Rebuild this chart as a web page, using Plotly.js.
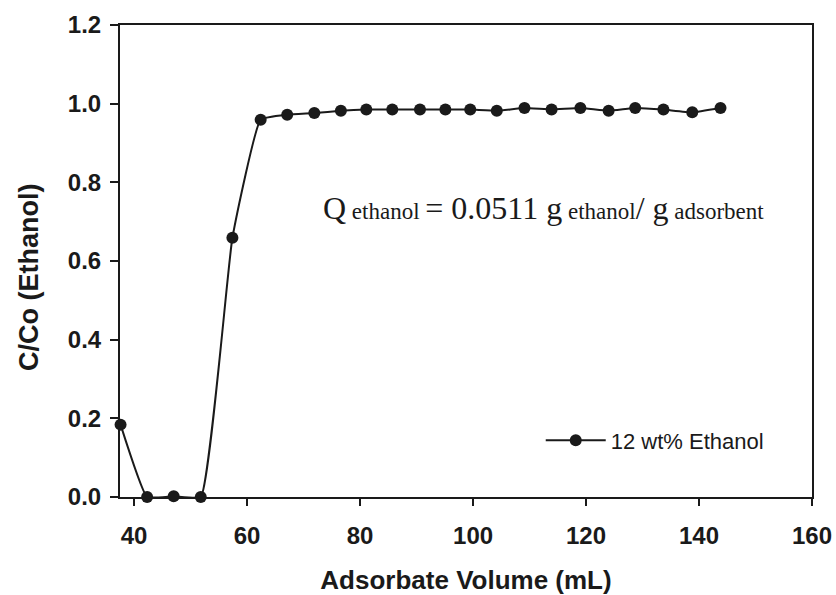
<!DOCTYPE html>
<html>
<head>
<meta charset="utf-8">
<script src="https://cdn.plot.ly/plotly-3.0.1.min.js"></script>
<style>html,body{margin:0;padding:0;background:#fff;}#chart{width:836px;height:595px;}</style>
</head>
<body>
<div id="chart"></div>
<script>
// Data
const volume = [37.6, 42.3, 47.0, 51.8, 57.4, 62.4, 67.1, 71.9, 76.6, 81.1, 85.7, 90.6,
                95.1, 99.5, 104.2, 109.1, 113.9, 119.0, 124.0, 128.7, 133.7, 138.8, 143.8];
const ratio  = [0.184, 0.0, 0.002, 0.0, 0.659, 0.959, 0.972, 0.976, 0.982, 0.985, 0.985, 0.985,
                0.985, 0.985, 0.982, 0.989, 0.985, 0.989, 0.982, 0.989, 0.985, 0.978, 0.989];
const seriesName = "12 wt% Ethanol";
const xTicks = [40, 60, 80, 100, 120, 140, 160];
const yTicks = [0.0, 0.2, 0.4, 0.6, 0.8, 1.0, 1.2];
const yTickText = ["0.0", "0.2", "0.4", "0.6", "0.8", "1.0", "1.2"];

const ink = "#1a1a1a";
const sans = "Liberation Sans, Arial, sans-serif";

const trace = {
  x: volume, y: ratio, name: seriesName, type: "scatter", mode: "lines+markers",
  line: {color: ink, width: 2, shape: "spline", smoothing: 0.35},
  marker: {color: ink, size: 12, symbol: "circle"},
  cliponaxis: false
};

const layout = {
  width: 836, height: 595,
  margin: {l: 120, r: 24, t: 25, b: 98},
  paper_bgcolor: "#ffffff", plot_bgcolor: "#ffffff",
  showlegend: true,
  legend: {x: 0.608, y: 0.12, xanchor: "left", yanchor: "middle", bgcolor: "rgba(0,0,0,0)",
           font: {family: sans, size: 22, color: ink},
           itemwidth: 60},
  xaxis: {
    range: [37.5, 160], tickvals: xTicks, ticktext: xTicks.map(String),
    showgrid: false, zeroline: false, showline: true, linecolor: ink, linewidth: 2, mirror: true,
    ticks: "outside", ticklen: 7, tickwidth: 2, tickcolor: ink, ticklabelstandoff: 9,
    tickfont: {family: sans, size: 24, color: ink, weight: "bold"},
    title: {text: "<b>Adsorbate Volume (mL)</b>", standoff: 30,
            font: {family: sans, size: 26, color: ink}}
  },
  yaxis: {
    range: [0, 1.2], tickvals: yTicks, ticktext: yTickText,
    showgrid: false, zeroline: false, showline: true, linecolor: ink, linewidth: 2, mirror: true,
    ticks: "outside", ticklen: 8, tickwidth: 2, tickcolor: ink, ticklabelstandoff: 4,
    tickfont: {family: sans, size: 24, color: ink, weight: "bold"}
  },
  annotations: [{
    xref: "paper", yref: "paper", x: -0.1315, y: 0.464, xanchor: "center", yanchor: "middle",
    showarrow: false, textangle: -90,
    text: "<b>C/Co (Ethanol)</b>",
    font: {family: sans, size: 27, color: ink}
  }, {
    xref: "paper", yref: "paper", x: 0.29, y: 0.612, xanchor: "left", yanchor: "middle",
    showarrow: false,
    text: "Q<span style=\"font-size:23px\"> ethanol </span>= 0.0511 g<span style=\"font-size:23px\"> ethanol</span>/ g<span style=\"font-size:23px\"> adsorbent</span>",
    font: {family: "Liberation Serif, Times New Roman, serif", size: 32, color: ink}
  }]
};

Plotly.newPlot("chart", [trace], layout, {staticPlot: true, displayModeBar: false});
</script>
</body>
</html>
